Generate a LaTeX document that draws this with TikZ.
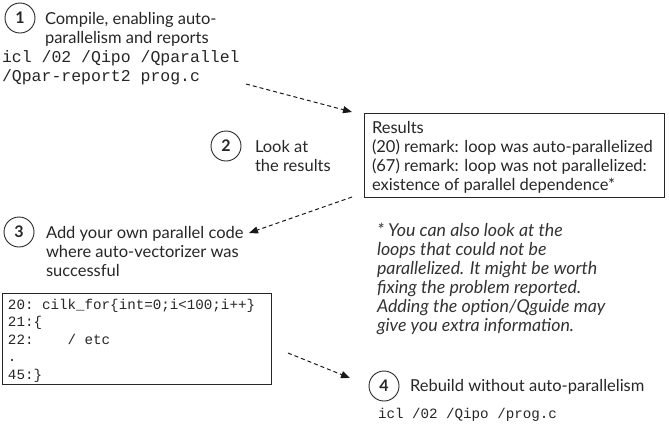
\documentclass[tikz,border=0pt]{standalone}
\usepackage{fontspec}
\setmainfont{Lato}
\setmonofont{Liberation Mono}
\usetikzlibrary{arrows.meta}
\begin{document}
\begin{tikzpicture}[x=1pt,y=-1pt,
  every node/.style={inner sep=0pt,outer sep=0pt},
  txt/.style={anchor=base west,font=\fontsize{16.5}{19}\selectfont,text=black!85},
  ftxt/.style={anchor=base west,font=\fontsize{17.8}{19}\selectfont\itshape,text=black!80},
  mono/.style={anchor=base west,font=\fontsize{16.5}{19}\ttfamily,text=black!85},
  smono/.style={anchor=base west,font=\fontsize{14.2}{17}\ttfamily,text=black!85},
  num/.style={circle,draw=black!85,line width=0.9pt,minimum size=30pt,font=\fontsize{16}{18}\selectfont\bfseries,text=black!85},
  flow/.style={draw=black!90,line width=1pt,dash pattern=on 4pt off 3pt,-{Triangle[length=9pt,width=7pt]}},
  box/.style={draw=black!85,line width=0.9pt}]
\useasboundingbox (0,0) rectangle (669,424);
% step 1
\node[num] (n1) at (20,18) {1};
\node[txt] (t1a) at (45,24) {Compile, enabling auto-};
\node[txt] (t1b) at (45,43) {parallelism and reports};
\node[mono] (c1a) at (2,62) {icl /02 /Qipo /Qparallel};
\node[mono] (c1b) at (2,81) {/Qpar-report2 prog.c};
% step 2
\node[num] (n2) at (226,146) {2};
\node[txt] (t2a) at (255,152) {Look at};
\node[txt] (t2b) at (255,171) {the results};
% results box
\draw[box] (364,113) rectangle (664,197);
\node[txt] (r1) at (372,133) {Results};
\node[txt] (r2) at (372,152) {(20) remark: loop was auto-parallelized};
\node[txt] (r3) at (372,171) {(67) remark: loop was not parallelized:};
\node[txt] (r4) at (372,190) {existence of parallel dependence*};
% step 3
\node[num] (n3) at (19,232) {3};
\node[txt] (t3a) at (46,238) {Add your own parallel code};
\node[txt] (t3b) at (46,257) {where auto-vectorizer was};
\node[txt] (t3c) at (46,276) {successful};
% code box
\draw[box] (2,293) rectangle (271,384);
\node[smono] (k1) at (8,309) {20: cilk\_for\{int=0;i<100;i++\}};
\node[smono] (k2) at (8,326.5) {21:\{};
\node[smono] (k3) at (8,344) {22:\ \ \ \ / etc};
\node[smono] (k4) at (8,361.5) {.};
\node[smono] (k5) at (8,379) {45:\}};
% footnote
\node[ftxt] (f1) at (377,236) {* You can also look at the};
\node[ftxt] (f2) at (377,255) {loops that could not be};
\node[ftxt] (f3) at (377,274) {parallelized. It might be worth};
\node[ftxt] (f4) at (377,293) {fixing the problem reported.};
\node[ftxt] (f5) at (377,312) {Adding the option/Qguide may};
\node[ftxt] (f6) at (377,331) {give you extra information.};
% step 4
\node[num] (n4) at (384,386) {4};
\node[txt] (t4) at (410,391) {Rebuild without auto-parallelism};
\node[smono] (c4) at (378,418) {icl /02 /Qipo /prog.c};
% arrows
\coordinate (a1s) at (246,84);
\coordinate (a1e) at (352,112);
\coordinate (a2s) at (352,197);
\coordinate (a2e) at (249,233);
\coordinate (a3s) at (288,353);
\coordinate (a3e) at (350,378);
\draw[flow] (a1s) -- (a1e);
\draw[flow] (a2s) -- (a2e);
\draw[flow] (a3s) -- (a3e);
\end{tikzpicture}
\end{document}
